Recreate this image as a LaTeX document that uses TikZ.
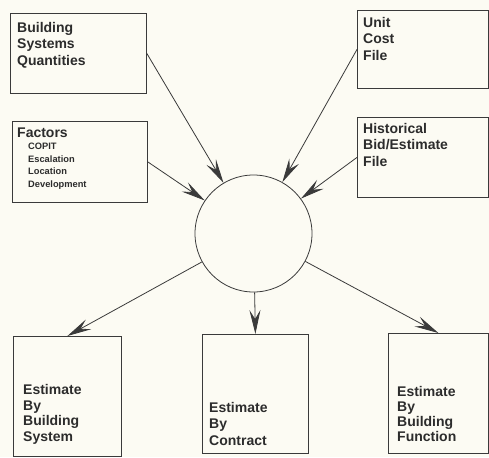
\documentclass[tikz,border=0pt]{standalone}
\usepackage{fontspec}
\setmainfont{Liberation Sans}
\usetikzlibrary{arrows.meta}
\definecolor{ink}{HTML}{3A3A3A}
\definecolor{txt}{HTML}{2C2C2C}
\definecolor{paper}{HTML}{FCFBF3}
\tikzset{
  boxnode/.style={draw=ink, line width=0.8pt, rectangle, inner sep=0pt, anchor=north west},
  lbl/.style={anchor=north west, inner sep=0pt, align=left, text=txt, font=\bfseries\fontsize{14}{16.5}\selectfont},
  lblsmall/.style={anchor=north west, inner sep=0pt, align=left, text=txt, font=\bfseries\fontsize{9.3}{12.5}\selectfont},
  tip/.tip={Stealth[length=24pt, width=11pt, inset=9pt]},
  conn/.style={draw=ink, line width=0.8pt, -tip}
}
\begin{document}
\begin{tikzpicture}[x=1pt, y=-1pt]
\fill[paper] (0,0) rectangle (489,457);
\useasboundingbox (0,0) rectangle (489,457);
% boxes
\node[boxnode, minimum width=136pt, minimum height=80pt] (bsq) at (10,13) {};
\node[boxnode, minimum width=135pt, minimum height=81pt] (fac) at (12,121) {};
\node[boxnode, minimum width=131pt, minimum height=78pt] (ucf) at (357,10) {};
\node[boxnode, minimum width=131pt, minimum height=80pt] (hbe) at (357,117) {};
\node[boxnode, minimum width=108pt, minimum height=120pt] (ebs) at (13,336) {};
\node[boxnode, minimum width=106pt, minimum height=119pt] (ebc) at (202,334) {};
\node[boxnode, minimum width=100pt, minimum height=120pt] (ebf) at (388,333) {};
% circle
\node[draw=ink, line width=0.8pt, circle, minimum size=117pt, inner sep=0pt] (c) at (253.5,233.5) {};
% labels
\node[lbl] (t1) at (17,22) {Building\\Systems\\Quantities};
\node[lbl] (t2) at (17,128) {Factors};
\node[lblsmall] (t2b) at (28,143.3) {COPIT\\Escalation\\Location\\Development};
\node[lbl] (t3) at (363,17) {Unit\\Cost\\File};
\node[lbl] (t4) at (363,123) {Historical\\Bid/Estimate\\File};
\node[lbl, font=\bfseries\fontsize{14}{15.7}\selectfont] (t5) at (23,384) {Estimate\\By\\Building\\System};
\node[lbl] (t6) at (209,402) {Estimate\\By\\Contract};
\node[lbl, font=\bfseries\fontsize{14}{15}\selectfont] (t7) at (397,386) {Estimate\\By\\Building\\Function};
% connectors
\draw[conn] (bsq.east) -- (c);
\draw[conn] (fac.east) -- (c);
\draw[conn] (ucf.west) -- (c);
\draw[conn] (hbe.west) -- (c);
\draw[conn] (c) -- (ebs.north);
\draw[conn] (c) -- (ebc.north);
\draw[conn] (c) -- (ebf.north);
\end{tikzpicture}
\end{document}
